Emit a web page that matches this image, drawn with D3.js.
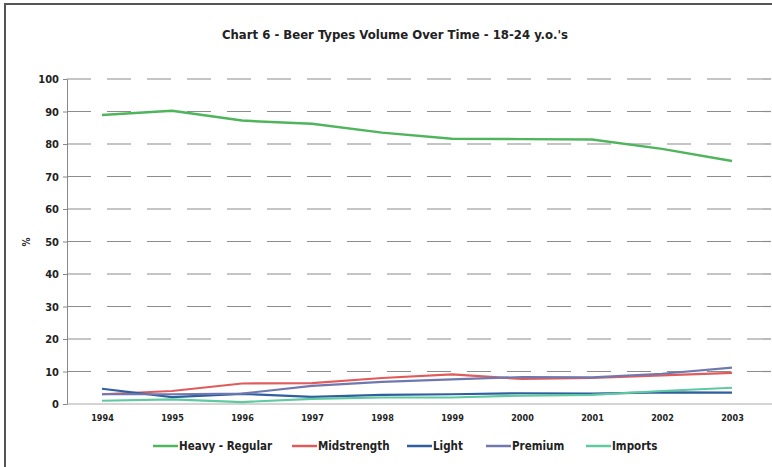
<!DOCTYPE html>
<html><head><meta charset="utf-8">
<script src="https://cdn.jsdelivr.net/npm/d3@7"></script>
<style>
body{margin:0;background:#fff;}
svg{display:block;}
text{font-family:"DejaVu Sans Condensed","Liberation Sans Narrow",Arial,sans-serif;fill:#222;}
</style></head>
<body>
<svg id="c" width="772" height="467"></svg>
<script>
const years = ["1994","1995","1996","1997","1998","1999","2000","2001","2002","2003"];
const yTicks = [0,10,20,30,40,50,60,70,80,90,100];
const heavyRegular = [88.9, 90.2, 87.2, 86.2, 83.5, 81.6, 81.5, 81.4, 78.5, 74.8];
const midstrength  = [3.0, 4.0, 6.3, 6.4, 8.0, 9.1, 7.7, 8.0, 8.8, 9.6];
const light        = [4.7, 2.1, 3.1, 2.2, 2.8, 3.0, 3.3, 3.2, 3.6, 3.5];
const premium      = [3.0, 3.0, 3.2, 5.6, 6.8, 7.6, 8.3, 8.2, 9.3, 11.2];
const imports      = [1.0, 1.4, 0.6, 1.6, 2.0, 2.0, 2.6, 2.8, 4.0, 5.0];
const seriesNames  = ["Heavy - Regular","Midstrength","Light","Premium","Imports"];
const seriesColors = ["#4fb55c","#e05c5c","#2f5f9f","#7078b0","#5fc9a0"];
const seriesData   = [heavyRegular, midstrength, light, premium, imports];
const title = "Chart 6 - Beer Types Volume Over Time - 18-24 y.o.'s";

(function(){
const svg = d3.select("#c");
svg.append("rect").attr("x",5).attr("y",4).attr("width",780).attr("height",480)
  .attr("fill","none").attr("stroke","#555").attr("stroke-width",2);

const pL=67, pR=767, pT=79, pB=404;
const x = d3.scalePoint().domain(years).range([pL,pR]).padding(0.5);
const y = d3.scaleLinear().domain([0,100]).range([pB,pT]);

svg.append("text").attr("x",395).attr("y",39).attr("text-anchor","middle")
  .attr("font-size","13px").attr("font-weight","bold").text(title);

svg.append("g").selectAll("line").data(yTicks.filter(d=>d>0)).join("line")
  .attr("x1",pL).attr("x2",772).attr("y1",d=>y(d)).attr("y2",d=>y(d))
  .attr("stroke","#8c8c8c").attr("stroke-width",1.2).attr("stroke-dasharray","24,16");

const ya = svg.append("g").attr("transform",`translate(${pL},0)`)
  .call(d3.axisLeft(y).tickValues(yTicks).tickSize(4).tickPadding(4));
ya.select(".domain").attr("stroke","#888");
ya.selectAll(".tick line").attr("stroke","#888");
ya.selectAll("text").attr("font-size","11px").attr("font-weight","bold").attr("fill","#333");

svg.append("line").attr("x1",pL).attr("x2",772).attr("y1",pB).attr("y2",pB)
  .attr("stroke","#aaa").attr("stroke-width",1.2);
const xa = svg.append("g").attr("transform",`translate(0,${pB})`)
  .call(d3.axisBottom(x).tickSize(0).tickPadding(11));
xa.select(".domain").remove();
xa.selectAll("text").attr("font-size","9px").attr("font-weight","bold").attr("fill","#333");

svg.append("text").attr("transform","translate(30,242) rotate(-90)")
  .attr("text-anchor","middle").attr("font-size","10px").attr("font-weight","bold").text("%");

const line = d3.line().x((d,i)=>x(years[i])).y(d=>y(d));
seriesData.forEach((s,k)=>{
  svg.append("path").datum(s).attr("d",line).attr("fill","none")
    .attr("stroke",seriesColors[k]).attr("stroke-width",k===0?2.5:2.2)
    .attr("stroke-linejoin","round");
});

const legX = [153,292,407,486,586];
const lg = svg.append("g");
seriesNames.forEach((n,k)=>{
  lg.append("line").attr("x1",legX[k]).attr("x2",legX[k]+25).attr("y1",446).attr("y2",446)
    .attr("stroke",seriesColors[k]).attr("stroke-width",2.5);
  lg.append("text").attr("x",legX[k]+26).attr("y",450).attr("font-size","11.5px")
    .attr("font-weight","bold").text(n);
});
})();
</script>
</body></html>
